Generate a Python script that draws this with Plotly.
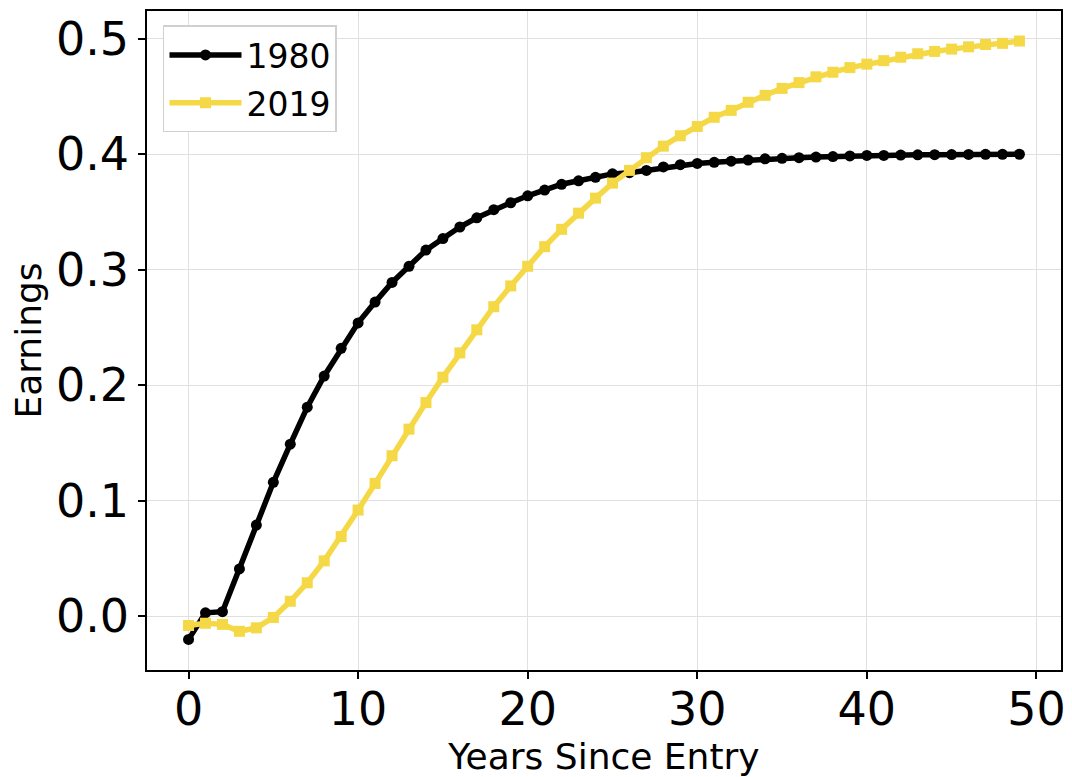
import plotly.graph_objects as go

years = list(range(50))
earnings_1980 = [-0.020, 0.003, 0.004, 0.041, 0.079, 0.116, 0.149, 0.181, 0.208, 0.232,
                 0.254, 0.272, 0.289, 0.303, 0.317, 0.327, 0.337, 0.345, 0.352, 0.358,
                 0.364, 0.369, 0.374, 0.377, 0.380, 0.383, 0.384, 0.386, 0.389, 0.391,
                 0.392, 0.393, 0.394, 0.395, 0.396, 0.3965, 0.397, 0.3975, 0.398, 0.3985,
                 0.399, 0.399, 0.3993, 0.3995, 0.3996, 0.3997, 0.3998, 0.3999, 0.3999, 0.400]
earnings_2019 = [-0.008, -0.006, -0.007, -0.013, -0.010, -0.001, 0.013, 0.029, 0.048, 0.069,
                 0.092, 0.115, 0.139, 0.162, 0.185, 0.207, 0.228, 0.248, 0.268, 0.286,
                 0.303, 0.320, 0.335, 0.349, 0.362, 0.375, 0.386, 0.397, 0.407, 0.416,
                 0.424, 0.432, 0.438, 0.445, 0.451, 0.457, 0.462, 0.467, 0.471, 0.475,
                 0.478, 0.481, 0.484, 0.487, 0.489, 0.491, 0.493, 0.495, 0.496, 0.498]
series_names = ["1980", "2019"]

BLACK = "#000000"
YELLOW = "#F5D845"
FONT = "DejaVu Sans"

fig = go.Figure()
fig.add_trace(go.Scatter(x=years, y=earnings_1980, name=series_names[0], mode="lines+markers",
                         legendgroup="a",
                         line=dict(color=BLACK, width=5.5),
                         marker=dict(symbol="circle", size=11, color=BLACK)))
fig.add_trace(go.Scatter(x=years, y=earnings_2019, name=series_names[1], mode="lines+markers",
                         legendgroup="b",
                         line=dict(color=YELLOW, width=5.5),
                         marker=dict(symbol="square", size=11, color=YELLOW)))

axis_common = dict(showline=True, linecolor="black", linewidth=1.5, mirror=True,
                   ticks="outside", ticklen=7, tickwidth=1.5, tickcolor="black",
                   showgrid=True, gridcolor="#e0e0e0", gridwidth=1, zeroline=False,
                   automargin=False,
                   tickfont=dict(family=FONT, size=46, color="black"))

fig.update_xaxes(range=[-2.45, 51.45], dtick=10, tick0=0, ticklabelstandoff=-9,
                 title=dict(text="Years Since Entry", font=dict(family=FONT, size=36, color="black"), standoff=0),
                 **axis_common)
fig.update_yaxes(range=[-0.0465, 0.524], dtick=0.1, tick0=0, tickformat=".1f",
                 title=dict(text="Earnings", font=dict(family=FONT, size=36, color="black"), standoff=10),
                 **axis_common)

# the page body adds an 8px offset, so the figure is sized to fit the window from there
fig.update_layout(
    width=1064, height=769,
    margin=dict(l=139, r=11, t=3, b=107),
    plot_bgcolor="white", paper_bgcolor="white",
    font=dict(family=FONT, color="black"),
    legend=dict(x=0.0175, y=0.978, xanchor="left", yanchor="top",
                bgcolor="white", bordercolor="#d0d0d0", borderwidth=1.5,
                font=dict(family=FONT, size=33, color="black"),
                itemwidth=72, tracegroupgap=2),
    showlegend=True,
)

fig.write_html("out.html")
